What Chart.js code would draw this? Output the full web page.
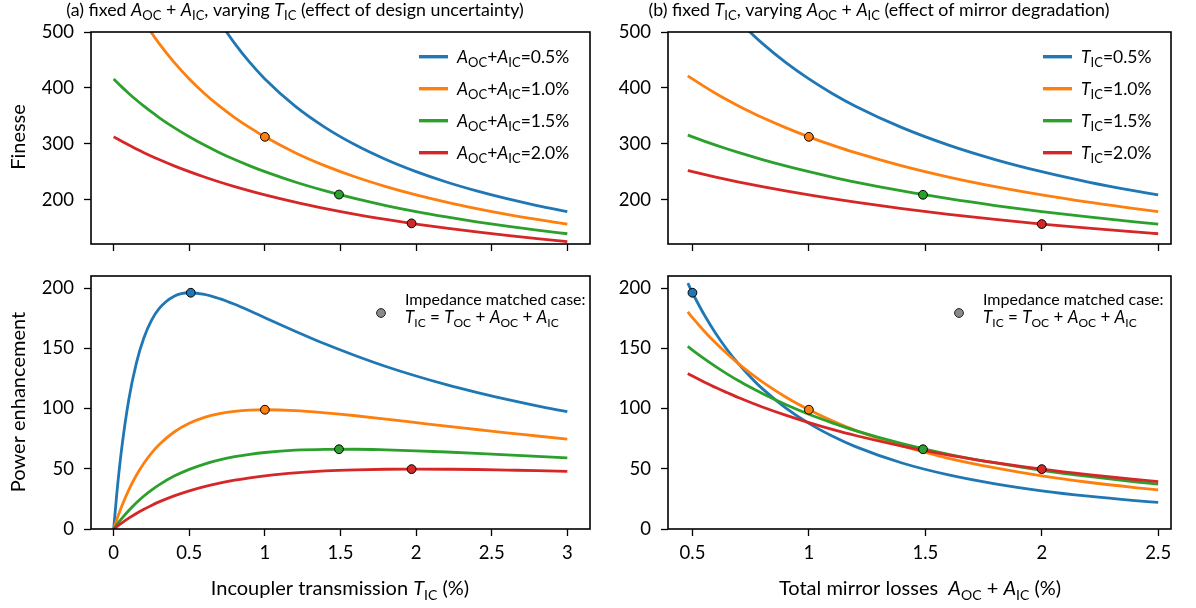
<!DOCTYPE html>
<html>
<head>
<meta charset="utf-8">
<script src="https://cdn.jsdelivr.net/npm/chart.js@4.4.1/dist/chart.umd.min.js"></script>
<style>
  html, body { margin: 0; padding: 0; background: #fff; }
  #wrap { position: relative; width: 1196px; height: 608px; overflow: hidden; background: #fff; }
  #wrap canvas { position: absolute; left: 0; top: 0; }
</style>
</head>
<body>
<div id="wrap">
  <canvas id="finA" width="1196" height="608"></canvas>
  <canvas id="finB" width="1196" height="608"></canvas>
  <canvas id="powA" width="1196" height="608"></canvas>
  <canvas id="powB" width="1196" height="608"></canvas>
</div>
<script>
// ---------- data ----------
// Panel (a): incoupler transmission T_IC (%) on x, one curve per total loss A_OC + A_IC
const tIC = [0, 0.02, 0.05, 0.1, 0.15, 0.2, 0.25, 0.3, 0.4, 0.5, 0.6, 0.7, 0.8, 0.9, 1.0,
             1.2, 1.4, 1.6, 1.8, 2.0, 2.2, 2.4, 2.6, 2.8, 3.0];
const lossLevels = ['0.5', '1.0', '1.5', '2.0'];

const finesseLoss05 = [null, null, null, null, null, null, null, null, null, null, 566.0, 519.3, 479.6, 445.6, 416.1,
                       367.4, 329.0, 297.8, 272.0, 250.3, 231.8, 215.9, 202.0, 189.8, 179.0];
const finesseLoss10 = [null, null, null, null, 541.6, 519.3, 498.7, 479.6, 445.6, 416.1, 390.2, 367.4, 347.1, 329.0, 312.6,
                       284.3, 260.7, 240.7, 223.6, 208.7, 195.7, 184.3, 174.0, 164.9, 156.7];
const finesseLoss15 = [416.1, 410.7, 402.8, 390.2, 378.5, 367.4, 357.0, 347.1, 329.0, 312.6, 297.8, 284.3, 272.0, 260.7, 250.3,
                       231.8, 215.9, 202.0, 189.8, 179.0, 169.4, 160.7, 152.9, 145.8, 139.3];
const finesseLoss20 = [312.6, 309.5, 305.0, 297.8, 290.9, 284.3, 278.0, 272.0, 260.7, 250.3, 240.7, 231.8, 223.6, 215.9, 208.7,
                       195.7, 184.3, 174.0, 164.9, 156.7, 149.2, 142.5, 136.3, 130.6, 125.4];

const powerLoss05 = [0, 28.5, 63.8, 107.5, 137.7, 158.7, 173.1, 182.9, 193.2, 196.1, 194.8, 191.2, 186.5, 181.1, 175.4,
                     164.2, 153.5, 143.8, 134.9, 127.0, 119.8, 113.4, 107.5, 102.2, 97.4];
const powerLoss10 = [0, 7.5, 17.8, 32.5, 44.6, 54.6, 63.0, 69.9, 80.5, 87.7, 92.6, 95.8, 97.7, 98.7, 99.0,
                     98.3, 96.4, 94.0, 91.2, 88.3, 85.4, 82.6, 79.8, 77.2, 74.6];
const powerLoss15 = [0, 3.4, 8.2, 15.4, 21.8, 27.4, 32.3, 36.6, 43.9, 49.5, 53.9, 57.3, 60.0, 62.0, 63.5,
                     65.4, 66.1, 66.2, 65.7, 64.9, 63.9, 62.8, 61.6, 60.3, 59.0];
const powerLoss20 = [0, 1.9, 4.7, 9.0, 12.9, 16.4, 19.6, 22.5, 27.5, 31.7, 35.2, 38.1, 40.5, 42.5, 44.1,
                     46.6, 48.2, 49.1, 49.6, 49.7, 49.6, 49.4, 48.9, 48.4, 47.8];

// impedance-matched operating points of panel (a)
const matchedTA = [0.51, 1.0, 1.49, 1.97];
const matchedFinesseA = [null, 312.6, 209.4, 157.9];
const matchedPowerA = [196.1, 99.0, 66.2, 49.7];

// Panel (b): total mirror losses A_OC + A_IC (%) on x, one curve per T_IC
const aLoss = [0.48, 0.5, 0.55, 0.6, 0.65, 0.7, 0.75, 0.8, 0.9, 1.0, 1.1, 1.2, 1.4, 1.6, 1.8, 2.0, 2.2, 2.4, 2.5];
const transLevels = ['0.5', '1.0', '1.5', '2.0'];

const finesseT05 = [null, null, null, 566.0, 541.6, 519.3, 498.7, 479.6, 445.6, 416.1, 390.2, 367.4, 329.0, 297.8, 272.0, 250.3, 231.8, 215.9, 208.7];
const finesseT10 = [421.7, 416.1, 402.8, 390.2, 378.5, 367.4, 357.0, 347.1, 329.0, 312.6, 297.8, 284.3, 260.7, 240.7, 223.6, 208.7, 195.7, 184.3, 179.0];
const finesseT15 = [315.7, 312.6, 305.0, 297.8, 290.9, 284.3, 278.0, 272.0, 260.7, 250.3, 240.7, 231.8, 215.9, 202.0, 189.8, 179.0, 169.4, 160.7, 156.7];
const finesseT20 = [252.3, 250.3, 245.4, 240.7, 236.2, 231.8, 227.6, 223.6, 215.9, 208.7, 202.0, 195.7, 184.3, 174.0, 164.9, 156.7, 149.2, 142.5, 139.3];

const powerT05 = [204.1, 196.1, 178.0, 162.3, 148.6, 136.6, 126.0, 116.5, 100.6, 87.7, 77.2, 68.4, 54.8, 44.9, 37.5, 31.7, 27.2, 23.6, 22.1];
const powerT10 = [180.2, 175.4, 164.4, 154.3, 145.2, 136.8, 129.1, 122.1, 109.6, 99.0, 89.8, 81.9, 68.9, 58.7, 50.7, 44.1, 38.8, 34.4, 32.5];
const powerT15 = [151.5, 148.5, 141.4, 134.8, 128.6, 122.8, 117.5, 112.4, 103.3, 95.2, 88.1, 81.7, 70.9, 62.0, 54.8, 48.7, 43.6, 39.2, 37.3];
const powerT20 = [129.0, 127.0, 122.1, 117.4, 113.1, 108.9, 105.0, 101.3, 94.5, 88.3, 82.7, 77.6, 68.8, 61.4, 55.1, 49.7, 45.1, 41.1, 39.3];

// impedance-matched operating points of panel (b)
const matchedAB = [0.5, 1.0, 1.49, 2.0];
const matchedFinesseB = [null, 312.6, 209.0, 156.7];
const matchedPowerB = [196.1, 99.0, 66.2, 49.7];

// tick values
const ticksTIC = [0, 0.5, 1, 1.5, 2, 2.5, 3];
const ticksLoss = [0.5, 1, 1.5, 2, 2.5];
const ticksFinesse = [200, 300, 400, 500];
const ticksPower = [0, 50, 100, 150, 200];

// ---------- styling ----------
const COLORS = ['#1f77b4', '#ff7f0e', '#2ca02c', '#d62728'];
const FONT = "Lato, 'Noto Sans', sans-serif";
const W = 1196, H = 608;
const Y_AXIS_W = 60, X_AXIS_H = 44;

// text runs: [text, style] with style n = upright, i = italic, s = subscript
const N = t => [t, 'n'], I = t => [t, 'i'], S = t => [t, 's'];

function runFont(style, size) {
  if (style === 'i') return `italic ${size}px ${FONT}`;
  if (style === 's') return `${Math.round(size * 0.72)}px ${FONT}`;
  return `${size}px ${FONT}`;
}
function drawRuns(ctx, runs, x, y, size, align) {
  ctx.save();
  ctx.textBaseline = 'alphabetic';
  ctx.textAlign = 'left';
  ctx.fillStyle = '#000';
  let total = 0;
  const parts = runs.map(([t, st]) => {
    ctx.font = runFont(st, size);
    const w = ctx.measureText(t).width;
    total += w;
    return { t, st, w };
  });
  let cx = align === 'center' ? x - total / 2 : (align === 'right' ? x - total : x);
  for (const p of parts) {
    ctx.font = runFont(p.st, size);
    ctx.fillText(p.t, cx, p.st === 's' ? y + size * 0.24 : y);
    cx += p.w;
  }
  ctx.restore();
}

function pairs(xs, ys) {
  return xs.map((x, i) => ({ x, y: ys[i] })).filter(p => p.y !== null);
}

function lineSets(xs, seriesList) {
  return seriesList.map((ys, i) => ({
    data: pairs(xs, ys),
    showLine: true,
    borderColor: COLORS[i],
    backgroundColor: COLORS[i],
    borderWidth: 2.8,
    pointRadius: 0,
    cubicInterpolationMode: 'monotone',
    order: 10 - i
  }));
}

function dotSet(xs, ys) {
  const keep = ys.map(y => y !== null);
  return {
    data: pairs(xs, ys),
    showLine: false,
    pointRadius: 4.4,
    pointBorderWidth: 1,
    pointBorderColor: '#000',
    pointBackgroundColor: COLORS.filter((c, i) => keep[i]),
    order: 0
  };
}

function makePanel(id, cfg) {
  const a = cfg.area;
  const tickFont = { family: FONT, size: 18.5 };
  const axisCommon = {
    type: 'linear',
    grid: { drawOnChartArea: false, drawTicks: true, tickLength: 7, tickWidth: 1.3, tickColor: '#000' },
    border: { display: false }
  };
  return new Chart(document.getElementById(id), {
    type: 'scatter',
    data: { datasets: cfg.datasets },
    options: {
      responsive: false,
      animation: false,
      events: [],
      layout: { padding: { left: a.l - Y_AXIS_W, top: a.t, right: W - a.r, bottom: H - a.b - X_AXIS_H } },
      plugins: { legend: { display: false }, tooltip: { enabled: false }, title: { display: false } },
      scales: {
        x: Object.assign({}, axisCommon, {
          min: cfg.xMin, max: cfg.xMax,
          afterFit: s => { s.height = X_AXIS_H; },
          afterBuildTicks: s => { s.ticks = cfg.xTicks.map(v => ({ value: v })); },
          ticks: { display: cfg.xLabels, color: '#000', font: tickFont, padding: 6, maxRotation: 0,
                   callback: v => String(Number(v)) }
        }),
        y: Object.assign({}, axisCommon, {
          min: cfg.yMin, max: cfg.yMax,
          afterFit: s => { s.width = Y_AXIS_W; },
          afterBuildTicks: s => { s.ticks = cfg.yTicks.map(v => ({ value: v })); },
          ticks: { color: '#000', font: tickFont, padding: 10, callback: v => String(Number(v)) }
        })
      }
    },
    plugins: [{
      id: 'panelDecor',
      afterDraw(chart) {
        const ctx = chart.ctx, ca = chart.chartArea;
        ctx.save();
        ctx.strokeStyle = '#000';
        ctx.lineWidth = 1.6;
        ctx.strokeRect(ca.left, ca.top, ca.right - ca.left, ca.bottom - ca.top);
        ctx.restore();
        if (cfg.decorate) cfg.decorate(ctx, chart);
      }
    }]
  });
}

// ---------- decorations ----------
function seriesLegend(ctx, lineX, textX, labels) {
  labels.forEach((runs, i) => {
    const yb = 63 + i * 32;
    ctx.save();
    ctx.strokeStyle = COLORS[i];
    ctx.lineWidth = 3.4;
    ctx.beginPath();
    ctx.moveTo(lineX, yb - 6.3);
    ctx.lineTo(lineX + 29, yb - 6.3);
    ctx.stroke();
    ctx.restore();
    drawRuns(ctx, runs, textX, yb, 17.5, 'left');
  });
}

function matchedLegend(ctx, dotX) {
  ctx.save();
  ctx.fillStyle = '#8a8a8a';
  ctx.strokeStyle = '#222';
  ctx.lineWidth = 1;
  ctx.beginPath();
  ctx.arc(dotX, 313, 4.4, 0, Math.PI * 2);
  ctx.fill();
  ctx.stroke();
  ctx.restore();
  drawRuns(ctx, [N('Impedance matched case:')], dotX + 24, 304.5, 16, 'left');
  drawRuns(ctx, [I('T'), S('IC'), N(' = '), I('T'), S('OC'), N(' + '), I('A'), S('OC'), N(' + '), I('A'), S('IC')],
           dotX + 24, 323, 17, 'left');
}

function yTitle(ctx, text, cy) {
  ctx.save();
  ctx.translate(25, cy);
  ctx.rotate(-Math.PI / 2);
  ctx.fillStyle = '#000';
  ctx.font = `20px ${FONT}`;
  ctx.textAlign = 'center';
  ctx.textBaseline = 'alphabetic';
  ctx.fillText(text, 0, 0);
  ctx.restore();
}

// ---------- panels ----------
makePanel('finA', {
  area: { l: 91, t: 32, r: 590, b: 244 },
  xMin: -0.15, xMax: 3.15, xTicks: ticksTIC, xLabels: false,
  yMin: 121, yMax: 500, yTicks: ticksFinesse,
  datasets: lineSets(tIC, [finesseLoss05, finesseLoss10, finesseLoss15, finesseLoss20])
    .concat([dotSet(matchedTA, matchedFinesseA)]),
  decorate(ctx) {
    drawRuns(ctx, [N('(a) fixed '), I('A'), S('OC'), N(' + '), I('A'), S('IC'), N(', varying '), I('T'), S('IC'),
                   N(' (effect of design uncertainty)')], 295, 16, 17.8, 'center');
    seriesLegend(ctx, 419, 457, lossLevels.map(v => [I('A'), S('OC'), N('+'), I('A'), S('IC'), N('=' + v + '%')]));
    yTitle(ctx, 'Finesse', 137);
  }
});

makePanel('finB', {
  area: { l: 668, t: 32, r: 1171, b: 244 },
  xMin: 0.395, xMax: 2.555, xTicks: ticksLoss, xLabels: false,
  yMin: 121, yMax: 500, yTicks: ticksFinesse,
  datasets: lineSets(aLoss, [finesseT05, finesseT10, finesseT15, finesseT20])
    .concat([dotSet(matchedAB, matchedFinesseB)]),
  decorate(ctx) {
    drawRuns(ctx, [N('(b) fixed '), I('T'), S('IC'), N(', varying '), I('A'), S('OC'), N(' + '), I('A'), S('IC'),
                   N(' (effect of mirror degradation)')], 879, 16, 17.8, 'center');
    seriesLegend(ctx, 1043, 1081, transLevels.map(v => [I('T'), S('IC'), N('=' + v + '%')]));
  }
});

makePanel('powA', {
  area: { l: 91, t: 276, r: 590, b: 529 },
  xMin: -0.15, xMax: 3.15, xTicks: ticksTIC, xLabels: true,
  yMin: 0, yMax: 210, yTicks: ticksPower,
  datasets: lineSets(tIC, [powerLoss05, powerLoss10, powerLoss15, powerLoss20])
    .concat([dotSet(matchedTA, matchedPowerA)]),
  decorate(ctx) {
    matchedLegend(ctx, 381);
    yTitle(ctx, 'Power enhancement', 402);
    drawRuns(ctx, [N('Incoupler transmission '), I('T'), S('IC'), N(' (%)')], 340, 595, 20, 'center');
  }
});

makePanel('powB', {
  area: { l: 668, t: 276, r: 1171, b: 529 },
  xMin: 0.395, xMax: 2.555, xTicks: ticksLoss, xLabels: true,
  yMin: 0, yMax: 210, yTicks: ticksPower,
  datasets: lineSets(aLoss, [powerT05, powerT10, powerT15, powerT20])
    .concat([dotSet(matchedAB, matchedPowerB)]),
  decorate(ctx) {
    matchedLegend(ctx, 959);
    drawRuns(ctx, [N('Total mirror losses  '), I('A'), S('OC'), N(' + '), I('A'), S('IC'), N(' (%)')], 920, 595, 20, 'center');
  }
});
</script>
</body>
</html>
